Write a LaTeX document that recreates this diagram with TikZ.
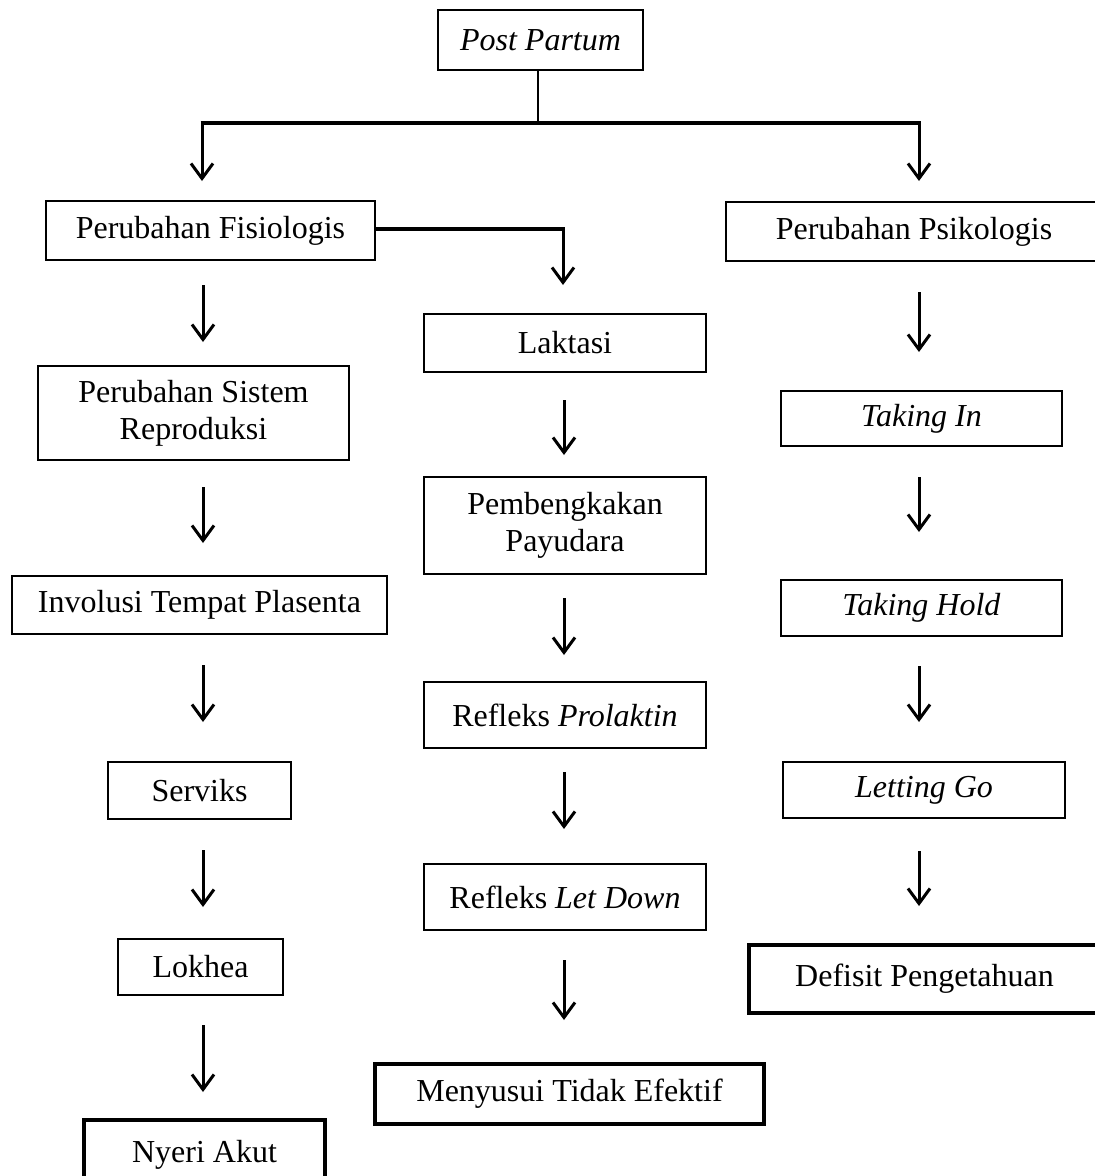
\documentclass[tikz,border=0pt]{standalone}
\usepackage{fontspec}
\setmainfont{Liberation Serif}
\usetikzlibrary{arrows.meta}
\newcommand\mkbox[7][box]{\node[#1,minimum width={(#5)-(#4)},minimum height={(#7)-(#6)}] (#2) at ({((#4)+(#5))/2},{((#6)+(#7))/2}) {#3};}
\begin{document}
\begin{tikzpicture}[x=1pt,y=-1pt,
  box/.style={draw, line width=2pt, inner sep=0pt, align=center, font=\fontsize{32}{37}\selectfont},
  thickbox/.style={box, line width=4pt},
  arr/.style={line width=3pt, -{Straight Barb[length=15pt,width=22pt]}},
  bar/.style={line width=3.5pt}]
\clip (0,0) rectangle (1095,1176);
\fill[white] (0,0) rectangle (1095,1176);
% boxes
\mkbox{pp}{\textit{Post Partum}}{438}{643}{10}{70}
\mkbox{fis}{Perubahan Fisiologis}{46}{375}{201}{260}
\mkbox{psi}{Perubahan Psikologis}{726}{1102}{202}{261}
\mkbox{sis}{Perubahan Sistem\\Reproduksi}{38}{349}{366}{460}
\mkbox{inv}{Involusi Tempat Plasenta}{12}{387}{576}{634}
\mkbox{ser}{Serviks}{108}{291}{762}{819}
\mkbox{lok}{Lokhea}{118}{283}{939}{995}
\mkbox[thickbox]{nye}{Nyeri Akut}{84}{325}{1120}{1190}
\mkbox{lak}{Laktasi}{424}{706}{314}{372}
\mkbox{pem}{Pembengkakan\\Payudara}{424}{706}{477}{574}
\mkbox{pro}{Refleks \textit{Prolaktin}}{424}{706}{682}{748}
\mkbox{let}{Refleks \textit{Let Down}}{424}{706}{864}{930}
\mkbox[thickbox]{men}{Menyusui Tidak Efektif}{375}{764}{1064}{1124}
\mkbox{tin}{\textit{Taking In}}{781}{1062}{391}{446}
\mkbox{tho}{\textit{Taking Hold}}{781}{1062}{580}{636}
\mkbox{lgo}{\textit{Letting Go}}{783}{1065}{762}{818}
\mkbox[thickbox]{def}{Defisit Pengetahuan}{749}{1100}{945}{1013}
% top branching
\coordinate (j) at (538,123);
\coordinate (jl) at (202,123);
\coordinate (jr) at (919,123);
\coordinate (fisin) at (202,181);
\coordinate (psiin) at (919,181);
\draw[line width=2.5pt] (j |- pp.south) -- (j);
\draw[bar] ([xshift=-1.5pt]jl) -- ([xshift=1.5pt]jr);
\draw[arr] (jl) -- (fisin);
\draw[arr] (jr) -- (psiin);
\coordinate (fk) at (563,229);
\coordinate (lakin) at (563,285);
\draw[bar] (fis.east |- fk) -- ([xshift=1.5pt]fk);
\draw[arr] (fk) -- (lakin);
% free arrows
\foreach \n/\x/\a/\b in {l1/203/285/342, l2/203/487/543, l3/203/665/722, l4/203/850/907, l5/203/1025/1092,
  m1/564/400/455, m2/564/598/655, m3/564/772/829, m4/564/960/1020,
  r1/919/292/352, r2/919/477/532, r3/919/666/722, r4/919/851/906}{
  \coordinate (\n s) at (\x,\a);
  \coordinate (\n e) at (\x,\b);
  \draw[arr] (\n s) -- (\n e);
}
\end{tikzpicture}
\end{document}
